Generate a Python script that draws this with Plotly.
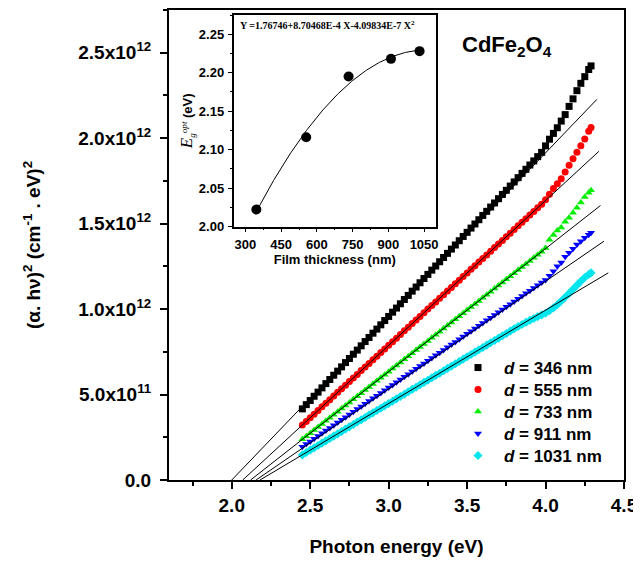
import plotly.graph_objects as go
import numpy as np

# ---------------- data (main plot) ----------------
energy = [2.450, 2.475, 2.500, 2.525, 2.550, 2.575, 2.600, 2.625, 2.650, 2.675,
          2.700, 2.725, 2.750, 2.775, 2.800, 2.825, 2.850, 2.875, 2.900, 2.925,
          2.950, 2.975, 3.000, 3.025, 3.050, 3.075, 3.100, 3.125, 3.150, 3.175,
          3.200, 3.225, 3.250, 3.275, 3.300, 3.325, 3.350, 3.375, 3.400, 3.425,
          3.450, 3.475, 3.500, 3.525, 3.550, 3.575, 3.600, 3.625, 3.650, 3.675,
          3.700, 3.725, 3.750, 3.775, 3.800, 3.825, 3.850, 3.875, 3.900, 3.925,
          3.950, 3.975, 4.000, 4.025, 4.050, 4.075, 4.100, 4.125, 4.150, 4.175,
          4.200, 4.225, 4.250, 4.275, 4.290]

# (alpha h nu)^2 in units of 1e11 (cm^-1 eV)^2
y_346 = [4.16, 4.41, 4.65, 4.90, 5.14, 5.39, 5.64, 5.88, 6.13, 6.37,
         6.62, 6.87, 7.11, 7.36, 7.60, 7.85, 8.10, 8.34, 8.59, 8.83,
         9.08, 9.33, 9.57, 9.82, 10.06, 10.31, 10.56, 10.80, 11.05, 11.29,
         11.54, 11.79, 12.03, 12.28, 12.52, 12.77, 13.02, 13.26, 13.51, 13.75,
         14.00, 14.25, 14.49, 14.74, 14.98, 15.23, 15.48, 15.72, 15.97, 16.21,
         16.46, 16.71, 16.95, 17.20, 17.44, 17.69, 17.94, 18.18, 18.43, 18.67,
         18.92, 19.17, 19.55, 19.94, 20.28, 20.61, 21.00, 21.38, 21.86, 22.30,
         22.78, 23.21, 23.60, 24.02, 24.23]
y_555 = [3.22, 3.43, 3.64, 3.85, 4.07, 4.28, 4.49, 4.70, 4.91, 5.13,
         5.34, 5.55, 5.76, 5.97, 6.18, 6.40, 6.61, 6.82, 7.03, 7.24,
         7.46, 7.67, 7.88, 8.09, 8.30, 8.51, 8.73, 8.94, 9.15, 9.36,
         9.57, 9.78, 10.00, 10.21, 10.42, 10.63, 10.84, 11.06, 11.27, 11.48,
         11.69, 11.90, 12.11, 12.33, 12.54, 12.75, 12.96, 13.17, 13.38, 13.60,
         13.81, 14.02, 14.23, 14.44, 14.65, 14.87, 15.08, 15.29, 15.50, 15.71,
         15.93, 16.14, 16.40, 16.72, 17.05, 17.33, 17.62, 18.02, 18.42, 18.80,
         19.18, 19.55, 19.95, 20.40, 20.62]
y_733 = [2.38, 2.56, 2.74, 2.92, 3.10, 3.28, 3.46, 3.64, 3.82, 4.00,
         4.18, 4.36, 4.54, 4.72, 4.90, 5.08, 5.26, 5.44, 5.62, 5.80,
         5.98, 6.16, 6.34, 6.52, 6.70, 6.88, 7.06, 7.24, 7.42, 7.60,
         7.78, 7.96, 8.14, 8.32, 8.50, 8.68, 8.86, 9.04, 9.22, 9.40,
         9.58, 9.76, 9.94, 10.12, 10.30, 10.48, 10.66, 10.84, 11.02, 11.20,
         11.38, 11.56, 11.74, 11.92, 12.10, 12.28, 12.46, 12.64, 12.82, 13.00,
         13.18, 13.36, 13.58, 14.05, 14.33, 14.60, 14.78, 15.11, 15.35, 15.63,
         15.93, 16.23, 16.56, 16.80, 16.96]
y_911 = [1.94, 2.10, 2.25, 2.41, 2.57, 2.73, 2.89, 3.04, 3.20, 3.36,
         3.52, 3.67, 3.83, 3.99, 4.15, 4.30, 4.46, 4.62, 4.78, 4.93,
         5.09, 5.25, 5.41, 5.56, 5.72, 5.88, 6.04, 6.19, 6.35, 6.51,
         6.67, 6.82, 6.98, 7.14, 7.30, 7.45, 7.61, 7.77, 7.93, 8.08,
         8.24, 8.40, 8.56, 8.71, 8.87, 9.03, 9.19, 9.34, 9.50, 9.66,
         9.82, 9.97, 10.13, 10.29, 10.45, 10.60, 10.76, 10.92, 11.08, 11.23,
         11.39, 11.55, 11.70, 11.95, 12.22, 12.50, 12.73, 13.06, 13.30, 13.53,
         13.78, 13.97, 14.18, 14.35, 14.46]
y_1031 = [1.47, 1.61, 1.75, 1.88, 2.02, 2.16, 2.29, 2.43, 2.57, 2.70,
          2.84, 2.98, 3.11, 3.25, 3.39, 3.52, 3.66, 3.80, 3.93, 4.07,
          4.20, 4.34, 4.48, 4.61, 4.75, 4.89, 5.02, 5.16, 5.30, 5.43,
          5.57, 5.71, 5.84, 5.98, 6.12, 6.25, 6.39, 6.53, 6.66, 6.80,
          6.93, 7.07, 7.21, 7.34, 7.48, 7.62, 7.75, 7.89, 8.03, 8.16,
          8.30, 8.44, 8.57, 8.71, 8.85, 8.98, 9.10, 9.22, 9.34, 9.45,
          9.56, 9.66, 9.76, 9.90, 10.07, 10.26, 10.47, 10.69, 10.92, 11.16,
          11.40, 11.63, 11.85, 12.02, 12.12]

series_names = ["346", "555", "733", "911", "1031"]
series_values = [y_346, y_555, y_733, y_911, y_1031]
series_colors = ["#000000", "#ff0000", "#00ee00", "#0000ff", "#00e5ee"]
series_symbols = ["square", "circle", "triangle-up", "triangle-down", "diamond"]

# linear extrapolation lines: intercept on energy axis and end point
fit_intercept = [2.00, 2.07, 2.12, 2.155, 2.18]
fit_end_x = [4.327, 4.34, 4.35, 4.372, 4.40]
fit_end_y = [22.27, 19.23, 16.06, 13.97, 12.12]

x_ticks = [2.0, 2.5, 3.0, 3.5, 4.0, 4.5]
x_tick_labels = ["2.0", "2.5", "3.0", "3.5", "4.0", "4.5"]
y_ticks = [0, 5, 10, 15, 20, 25]
y_tick_labels = ["0.0", "5.0x10<sup>11</sup>", "1.0x10<sup>12</sup>",
                 "1.5x10<sup>12</sup>", "2.0x10<sup>12</sup>", "2.5x10<sup>12</sup>"]

# ---------------- data (inset) ----------------
thickness = [346, 555, 733, 911, 1031]
eg_opt = [2.022, 2.116, 2.195, 2.218, 2.228]
fit_coef = [1.76746, 8.70468e-4, -4.09834e-7]
inset_x_ticks = [300, 450, 600, 750, 900, 1050]
inset_x_labels = ["300", "450", "600", "750", "900", "1050"]
inset_y_ticks = [2.00, 2.05, 2.10, 2.15, 2.20, 2.25]
inset_y_labels = ["2.00", "2.05", "2.10", "2.15", "2.20", "2.25"]

# ---------------- figure ----------------
FONT = "Liberation Sans, Arial, sans-serif"
SERIF = "Liberation Serif, Times New Roman, serif"

# The page body has an 8 px margin, so the figure is 8 px smaller and
# positions are given in reference pixels through px_x / px_y.
OFF = 8
W, H = 641 - OFF, 562 - OFF
PL, PR, PT, PB = 169, 624, 10, 480            # plot area in reference pixels
L, T = PL - OFF, PT - OFF
R = W - (PR - OFF)
B = H - (PB - OFF)
pw, ph = PR - PL, PB - PT


def px_x(p):
    return (p - PL) / pw


def px_y(p):
    return (PB - p) / ph


fig = go.Figure()

legend_ids = ["legend", "legend2", "legend3", "legend4", "legend5"]
for name, yv, col, sym, lg in zip(series_names, series_values, series_colors, series_symbols, legend_ids):
    fig.add_trace(go.Scatter(
        x=energy, y=yv, mode="markers",
        marker=dict(symbol=sym, size=7, color=col, line=dict(width=0)),
        name="<i>d</i> = %s nm" % name, legend=lg,
    ))

for x0, x1, y1 in zip(fit_intercept, fit_end_x, fit_end_y):
    fig.add_trace(go.Scatter(
        x=[x0, x1], y=[0, y1], mode="lines",
        line=dict(color="black", width=1), showlegend=False, hoverinfo="skip"))

# inset
xc = np.linspace(thickness[0], thickness[-1], 200)
yc = fit_coef[0] + fit_coef[1] * xc + fit_coef[2] * xc ** 2
fig.add_trace(go.Scatter(x=xc, y=yc, mode="lines", line=dict(color="black", width=1),
                         xaxis="x2", yaxis="y2", showlegend=False, hoverinfo="skip"))
fig.add_trace(go.Scatter(x=thickness, y=eg_opt, mode="markers",
                         marker=dict(symbol="circle", size=10, color="black"),
                         xaxis="x2", yaxis="y2", showlegend=False))

xr = [1.6, 4.5]
yr = [0, 27.5]
ir_x = [250, 1100]
ir_y = [2.0, 2.275]
inset_dx = [px_x(233.5), px_x(436)]
inset_dy = [px_y(226.5), px_y(15)]

axis_common = dict(showgrid=False, zeroline=False, showline=True, linecolor="black", automargin=False)
over_common = dict(showgrid=False, zeroline=False, showline=False, showticklabels=False,
                   automargin=False, tickmode="array", tickcolor="black")

legend_rows_px = [368, 390, 412, 434, 456]
legends = {}
for lg, row in zip(legend_ids, legend_rows_px):
    legends[lg] = dict(x=px_x(452), y=px_y(row), xanchor="left", yanchor="middle",
                       bgcolor="rgba(0,0,0,0)", font=dict(size=17, family=FONT, weight="bold"),
                       itemwidth=42)

fig.update_layout(
    width=W, height=H,
    margin=dict(l=L, r=R, t=T, b=B, autoexpand=False),
    paper_bgcolor="white", plot_bgcolor="white",
    font=dict(family=FONT, color="black"),
    showlegend=True,
    **legends,
    xaxis=dict(**axis_common, range=xr, linewidth=2, mirror=True,
               tickmode="array", tickvals=x_ticks, ticktext=x_tick_labels,
               ticks="outside", ticklen=7, tickwidth=1.5, tickcolor="black",
               tickfont=dict(size=19, family=FONT, weight="bold"), ticklabelstandoff=0,
               minor=dict(dtick=0.25, tick0=2.0, ticks="outside", ticklen=4, tickwidth=1.5, tickcolor="black"),
               title=dict(text="Photon energy (eV)", font=dict(size=19, family=FONT, weight="bold"), standoff=25)),
    yaxis=dict(**axis_common, range=yr, linewidth=2, mirror=True,
               tickmode="array", tickvals=y_ticks, ticktext=y_tick_labels,
               ticks="outside", ticklen=7, tickwidth=1.5, tickcolor="black",
               tickfont=dict(size=19, family=FONT, weight="bold"), ticklabelstandoff=5,
               minor=dict(dtick=2.5, tick0=0, ticks="outside", ticklen=4, tickwidth=1.5, tickcolor="black"),
               title=dict(text="(α. hν)<sup>2</sup> (cm<sup>-1</sup> . eV)<sup>2</sup>",
                          font=dict(size=19, family=FONT, weight="bold"), standoff=33)),
    xaxis3=dict(**over_common, overlaying="x", side="top", anchor="y", range=xr, tickvals=x_ticks,
                ticks="inside", ticklen=6, tickwidth=1.5,
                minor=dict(dtick=0.25, tick0=2.0, ticks="inside", ticklen=3, tickwidth=1.5, tickcolor="black")),
    yaxis3=dict(**over_common, overlaying="y", side="right", anchor="x", range=yr, tickvals=y_ticks,
                ticks="inside", ticklen=6, tickwidth=1.5,
                minor=dict(dtick=2.5, tick0=0, ticks="inside", ticklen=3, tickwidth=1.5, tickcolor="black")),
    xaxis2=dict(**axis_common, domain=inset_dx, anchor="y2", range=ir_x, linewidth=1.5, mirror=True,
                tickmode="array", tickvals=inset_x_ticks, ticktext=inset_x_labels,
                ticks="outside", ticklen=4, tickwidth=1, tickcolor="black",
                tickfont=dict(size=13, family=FONT, weight="bold"), ticklabelstandoff=1,
                minor=dict(dtick=75, tick0=300, ticks="outside", ticklen=2, tickwidth=1, tickcolor="black"),
                title=dict(text="Film thickness (nm)", font=dict(size=13, family=FONT, weight="bold"), standoff=4)),
    yaxis2=dict(**axis_common, domain=inset_dy, anchor="x2", range=ir_y, linewidth=1.5, mirror=True,
                tickmode="array", tickvals=inset_y_ticks, ticktext=inset_y_labels,
                ticks="outside", ticklen=4, tickwidth=1, tickcolor="black",
                tickfont=dict(size=13, family=FONT, weight="bold"), ticklabelstandoff=1,
                minor=dict(dtick=0.025, tick0=2.0, ticks="outside", ticklen=2, tickwidth=1, tickcolor="black"),
                title=dict(text='<i><span style="font-family:Liberation Serif;font-size:17px;font-weight:normal">E</span></i>'
                                '<sub><i><span style="font-family:Liberation Serif;font-weight:normal">g</span></i></sub>'
                                '<sup><i><span style="font-family:Liberation Serif;font-weight:normal">opt</span></i></sup>'
                                ' (eV)',
                           font=dict(size=13, family=FONT, weight="bold"), standoff=3)),
    xaxis4=dict(**over_common, overlaying="x2", side="top", anchor="y2", range=ir_x, tickvals=inset_x_ticks,
                ticks="inside", ticklen=3, tickwidth=1,
                minor=dict(dtick=75, tick0=300, ticks="inside", ticklen=2, tickwidth=1, tickcolor="black")),
    yaxis4=dict(**over_common, overlaying="y2", side="right", anchor="x2", range=ir_y, tickvals=inset_y_ticks,
                ticks="inside", ticklen=3, tickwidth=1,
                minor=dict(dtick=0.025, tick0=2.0, ticks="inside", ticklen=2, tickwidth=1, tickcolor="black")),
)

fig.add_annotation(xref="paper", yref="paper", x=px_x(238), y=px_y(25),
                   xanchor="left", yanchor="middle", showarrow=False,
                   text="Y =1.76746+8.70468E-4 X-4.09834E-7 X<sup>2</sup>",
                   font=dict(family=SERIF, size=10, color="black", weight="bold"))
fig.add_annotation(xref="paper", yref="paper", x=px_x(507), y=px_y(46),
                   xanchor="center", yanchor="middle", showarrow=False,
                   text="CdFe<sub>2</sub>O<sub>4</sub>",
                   font=dict(family=FONT, size=22, color="black", weight="bold"))

fig.write_html("out.html")
